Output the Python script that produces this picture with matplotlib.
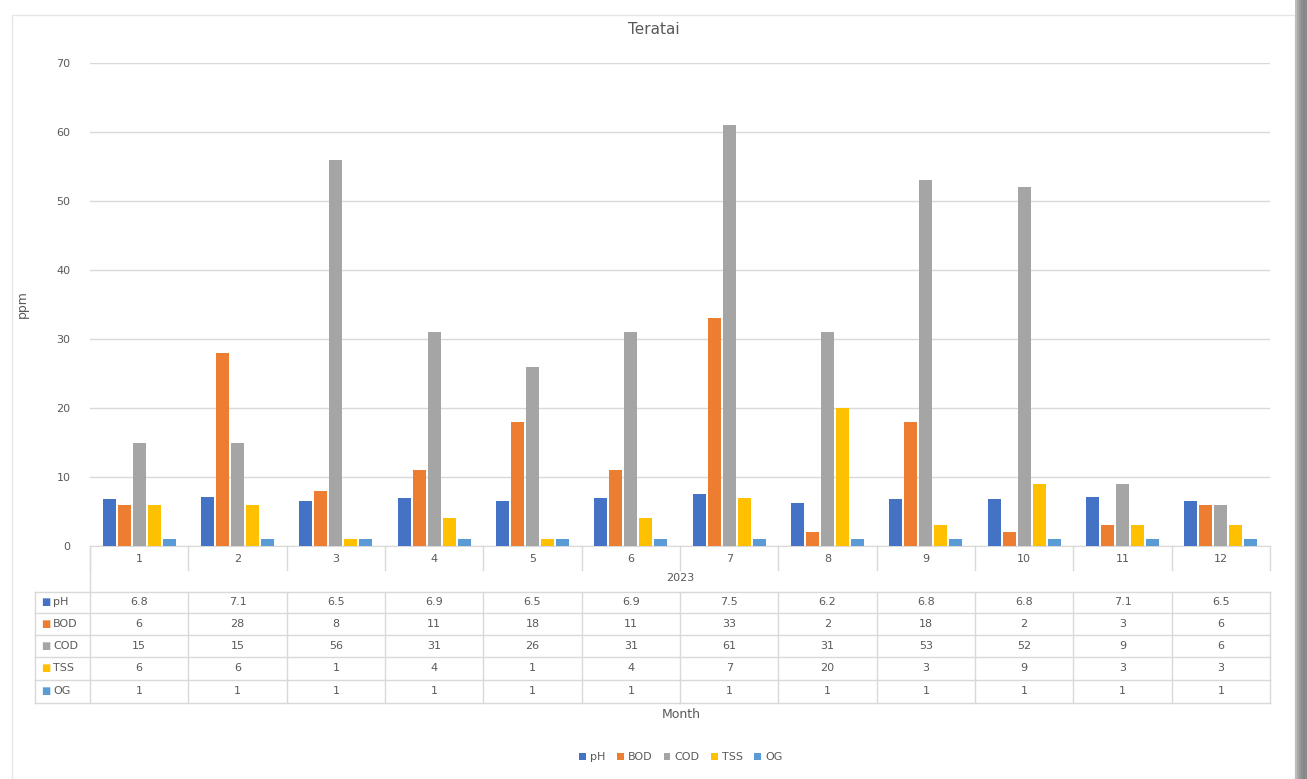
import matplotlib.pyplot as plt
from matplotlib.patches import Rectangle
from matplotlib.transforms import blended_transform_factory
import numpy as np

months = ['1', '2', '3', '4', '5', '6', '7', '8', '9', '10', '11', '12']
series_names = ['pH', 'BOD', 'COD', 'TSS', 'OG']
ph = [6.8, 7.1, 6.5, 6.9, 6.5, 6.9, 7.5, 6.2, 6.8, 6.8, 7.1, 6.5]
bod = [6, 28, 8, 11, 18, 11, 33, 2, 18, 2, 3, 6]
cod = [15, 15, 56, 31, 26, 31, 61, 31, 53, 52, 9, 6]
tss = [6, 6, 1, 4, 1, 4, 7, 20, 3, 9, 3, 3]
og = [1, 1, 1, 1, 1, 1, 1, 1, 1, 1, 1, 1]
year = '2023'

series = [ph, bod, cod, tss, og]
colors = ['#4472C4', '#ED7D31', '#A5A5A5', '#FFC000', '#5B9BD5']
txt = '#595959'
grid = '#D9D9D9'

W, H = 1307, 779
fig = plt.figure(figsize=(W / 100, H / 100), dpi=100)
fig.patch.set_facecolor('white')

def fy(py):
    return 1 - py / H

def fx(px):
    return px / W

# card + shadow on the right
fig.patches.append(Rectangle((fx(12), 0), fx(1283), fy(15), transform=fig.transFigure,
                             facecolor='white', edgecolor='#E6E6E6', lw=1.0, zorder=-5))
for i, c in enumerate(['#bdbdbd', '#a8a8a8', '#999999', '#8c8c8c', '#888888', '#8a8a8a']):
    fig.patches.append(Rectangle((fx(1295 + i * 2), 0), fx(2), 1, transform=fig.transFigure,
                                 facecolor=c, edgecolor='none', zorder=-4))

ax = fig.add_axes([fx(90), fy(546), fx(1180), (546 - 63) / H])
ax.set_facecolor('none')

x = np.arange(len(months))
step = 0.153
width = 0.132
for k, (vals, name, col) in enumerate(zip(series, series_names, colors)):
    ax.bar(x + (k - 2) * step, vals, width=width, color=col, label=name, zorder=3)

ax.set_xlim(-0.5, len(months) - 0.5)
ax.set_ylim(0, 70)
ax.set_yticks(range(0, 71, 10))
ax.yaxis.grid(True, color=grid, lw=1)
ax.set_axisbelow(True)
for s in ['top', 'right', 'left']:
    ax.spines[s].set_visible(False)
ax.spines['bottom'].set_color(grid)
ax.tick_params(axis='y', length=0, labelsize=8, labelcolor=txt, pad=14)
ax.set_xticks([])
ax.set_ylabel('ppm', color=txt, fontsize=9, labelpad=8)
ax.yaxis.set_label_coords(-0.052, 0.5)

fig.text(0.5, fy(30), 'Teratai', ha='center', va='center', fontsize=11, color=txt)

# data table under the axis
tr = blended_transform_factory(ax.transData, fig.transFigure)
line_kw = dict(color=grid, lw=1)

# category labels and separators
for i, m in enumerate(months):
    fig.text(i, fy(559), m, transform=tr, ha='center', va='center', fontsize=8, color=txt)
for i in range(len(months) + 1):
    xb = i - 0.5
    ax.plot([xb, xb], [fy(546), fy(570)], transform=tr, clip_on=False, **line_kw)
fig.text(5.5, fy(578), year, transform=tr, ha='center', va='center', fontsize=8, color=txt)

row_y = [602, 624, 646, 668, 691]
row_lines = [592, 613, 635, 657, 680, 703]
for ly in row_lines:
    fig.add_artist(plt.Line2D([fx(35), fx(1270)], [fy(ly), fy(ly)], transform=fig.transFigure, **line_kw))
fig.add_artist(plt.Line2D([fx(35), fx(35)], [fy(592), fy(703)], transform=fig.transFigure, **line_kw))
fig.add_artist(plt.Line2D([fx(90), fx(90)], [fy(546), fy(703)], transform=fig.transFigure, **line_kw))
for i in range(1, len(months) + 1):
    xb = i - 0.5
    ax.plot([xb, xb], [fy(592), fy(703)], transform=tr, clip_on=False, **line_kw)

for vals, name, col, ry in zip(series, series_names, colors, row_y):
    fig.text(fx(41), fy(ry), '■', ha='left', va='center', fontsize=7, color=col)
    fig.text(fx(53), fy(ry), name, ha='left', va='center', fontsize=8, color=txt)
    for i, v in enumerate(vals):
        fig.text(i, fy(ry), f'{v:g}', transform=tr, ha='center', va='center', fontsize=8, color=txt)

fig.text(fx(681), fy(715), 'Month', ha='center', va='center', fontsize=9, color=txt)

handles, labels = ax.get_legend_handles_labels()
fig.legend(handles, labels, loc='center', bbox_to_anchor=(fx(681), fy(757)), ncol=5,
           frameon=False, fontsize=8, labelcolor=txt, handlelength=0.6, handleheight=0.6,
           handletextpad=0.4, columnspacing=1.0)

fig.savefig('out.png', dpi=100)
